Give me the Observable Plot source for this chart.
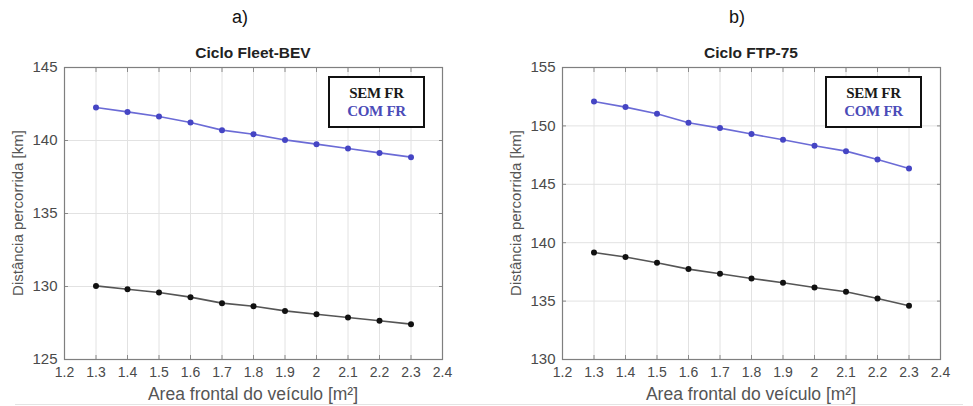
<!DOCTYPE html>
<html>
<head>
<meta charset="utf-8">
<script src="https://cdn.jsdelivr.net/npm/d3@7"></script>
<script src="https://cdn.jsdelivr.net/npm/@observablehq/plot@0.6"></script>
<style>
  html, body { margin: 0; padding: 0; background: #fff; }
  #wrap { position: relative; width: 973px; height: 406px; overflow: hidden; background: #fff; font-family: "Liberation Sans", Arial, sans-serif; }
  .lbl { position: absolute; transform: translate(-50%, -50%); white-space: nowrap; }
  .panel { position: absolute; top: 0; }
  .legend { position: absolute; border: 2px solid #111; box-sizing: border-box; background: #fff;
            font-family: "Liberation Serif", "Times New Roman", serif; font-weight: bold; font-size: 15px;
            text-align: center; line-height: 18px; letter-spacing: -0.3px; padding-top: 6px; }
</style>
</head>
<body>
<div id="wrap"></div>
<script>
// Data
const area = [1.3, 1.4, 1.5, 1.6, 1.7, 1.8, 1.9, 2.0, 2.1, 2.2, 2.3];
const fleetSem = [130.04, 129.81, 129.59, 129.27, 128.86, 128.65, 128.33, 128.10, 127.88, 127.65, 127.42];
const fleetCom = [142.26, 141.96, 141.64, 141.23, 140.71, 140.43, 140.04, 139.75, 139.45, 139.15, 138.86];
const ftpSem = [139.16, 138.77, 138.28, 137.74, 137.34, 136.94, 136.57, 136.16, 135.80, 135.22, 134.60];
const ftpCom = [152.09, 151.61, 151.04, 150.27, 149.81, 149.30, 148.81, 148.30, 147.84, 147.12, 146.35];
const xTicks = [1.2, 1.3, 1.4, 1.5, 1.6, 1.7, 1.8, 1.9, 2.0, 2.1, 2.2, 2.3, 2.4];
const yTicksA = [125, 130, 135, 140, 145];
const yTicksB = [130, 135, 140, 145, 150, 155];
const seriesNames = ["SEM FR", "COM FR"];
const panelTags = ["a)", "b)"];
const panelTitles = ["Ciclo Fleet-BEV", "Ciclo FTP-75"];
const xLabel = "Area frontal do veículo [m²]";
const yLabel = "Distância percorrida [km]";

const semColor = "#111111", semLine = "#555555";
const comColor = "#4545c4", comLine = "#6b6bd6";

function rows(values) { return area.map((a, i) => ({x: a, y: values[i]})); }

function makePanel(opts) {
  const {width, marginLeft, marginRight, yDomain, yTicks, sem, com} = opts;
  return Plot.plot({
    width, height: 406,
    marginLeft, marginRight, marginTop: 67, marginBottom: 47,
    style: {fontFamily: "'Liberation Sans', Arial, sans-serif", fontSize: "14px", color: "#4a4a4a", background: "transparent"},
    x: {domain: [1.2, 2.4]},
    y: {domain: yDomain},
    marks: [
      Plot.gridX(xTicks, {stroke: "#e2e2e2", strokeOpacity: 1}),
      Plot.gridY(yTicks, {stroke: "#e2e2e2", strokeOpacity: 1}),
      Plot.axisX(xTicks, {anchor: "bottom", tickSize: -4, stroke: "#8a8a8a", tickPadding: 12, fill: "#4a4a4a", fontSize: 14, label: null, tickFormat: d => String(+d.toFixed(1))}),
      Plot.axisX(xTicks, {anchor: "top", tickSize: -4, stroke: "#8a8a8a", tickFormat: () => "", label: null}),
      Plot.axisY(yTicks, {anchor: "left", tickSize: -4, stroke: "#8a8a8a", tickPadding: 11, fill: "#4a4a4a", fontSize: 15, label: null}),
      Plot.axisY(yTicks, {anchor: "right", tickSize: -4, stroke: "#8a8a8a", tickFormat: () => "", label: null}),
      Plot.frame({stroke: "#7f7f7f", strokeWidth: 1.2}),
      Plot.line(rows(com), {x: "x", y: "y", stroke: comLine, strokeWidth: 1.6}),
      Plot.dot(rows(com), {x: "x", y: "y", r: 3, fill: comColor, stroke: "none"}),
      Plot.line(rows(sem), {x: "x", y: "y", stroke: semLine, strokeWidth: 1.6}),
      Plot.dot(rows(sem), {x: "x", y: "y", r: 3, fill: semColor, stroke: "none"})
    ]
  });
}

const wrap = document.getElementById("wrap");

function addLabel(text, x, y, style) {
  const d = document.createElement("div");
  d.className = "lbl";
  d.textContent = text;
  d.style.left = x + "px";
  d.style.top = y + "px";
  Object.assign(d.style, style || {});
  wrap.appendChild(d);
  return d;
}

function addLegend(left, top, w, h) {
  const box = document.createElement("div");
  box.className = "legend";
  box.style.left = left + "px";
  box.style.top = top + "px";
  box.style.width = w + "px";
  box.style.height = h + "px";
  const a = document.createElement("div"); a.textContent = seriesNames[0]; a.style.color = "#1a1a1a";
  const b = document.createElement("div"); b.textContent = seriesNames[1]; b.style.color = "#4b4bb8";
  box.appendChild(a); box.appendChild(b);
  wrap.appendChild(box);
}

const panels = [
  {left: 0, width: 486, marginLeft: 64, marginRight: 44, yDomain: [125, 145], yTicks: yTicksA, sem: fleetSem, com: fleetCom,
   tagX: 240, titleX: 253, xlabX: 253, ylabX: 17, legend: [328, 76, 97, 52]},
  {left: 486, width: 487, marginLeft: 76, marginRight: 33, yDomain: [130, 155], yTicks: yTicksB, sem: ftpSem, com: ftpCom,
   tagX: 737, titleX: 751, xlabX: 751, ylabX: 515, legend: [825, 76, 97, 52]}
];

panels.forEach((p, i) => {
  const holder = document.createElement("div");
  holder.className = "panel";
  holder.style.left = p.left + "px";
  holder.appendChild(makePanel(p));
  wrap.appendChild(holder);
  addLabel(panelTags[i], p.tagX, 17, {fontSize: "18px", color: "#111"});
  addLabel(panelTitles[i], p.titleX, 53, {fontSize: "15.5px", fontWeight: "bold", color: "#222"});
  addLabel(xLabel, p.xlabX, 394, {fontSize: "17.5px", color: "#555"});
  addLabel(yLabel, p.ylabX, 213, {fontSize: "15px", color: "#555", transform: "translate(-50%, -50%) rotate(-90deg)"});
  addLegend(...p.legend);
});

const bottomLine = document.createElement("div");
Object.assign(bottomLine.style, {position: "absolute", left: "15px", right: "10px", top: "404px", height: "1px", background: "#e4e4e4"});
wrap.appendChild(bottomLine);
</script>
</body>
</html>
